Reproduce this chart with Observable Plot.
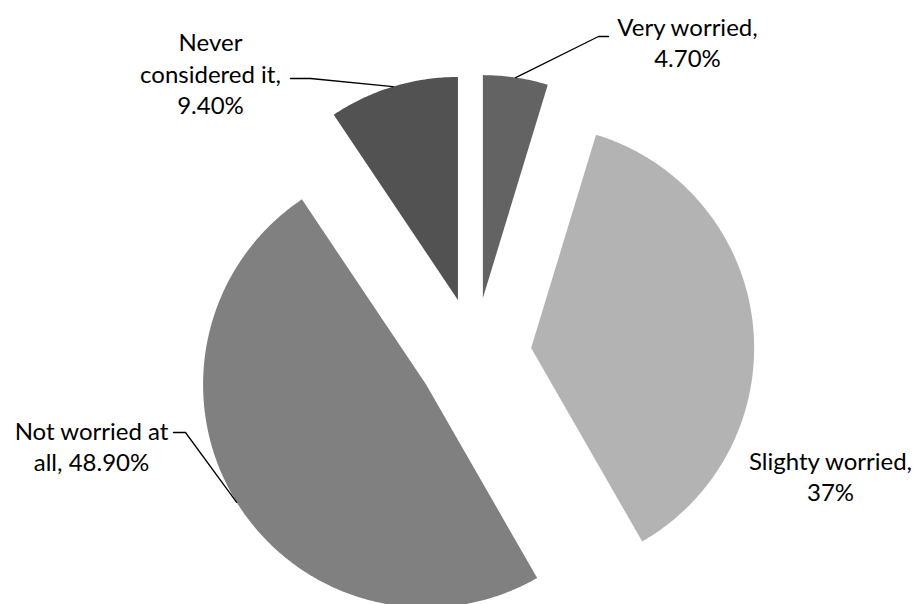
<!DOCTYPE html>
<html>
<head>
<meta charset="utf-8">
<script src="https://cdn.jsdelivr.net/npm/d3@7"></script>
<script src="https://cdn.jsdelivr.net/npm/@observablehq/plot@0.6"></script>
<style>
  html, body { margin: 0; padding: 0; background: #fff; }
</style>
</head>
<body>
<div id="chart"></div>
<script>
// ---- data ----
const categories = ["Very worried", "Slighty worried", "Not worried at all", "Never considered it"];
const values = [4.7, 37, 48.9, 9.4];
const valueLabels = ["4.70%", "37%", "48.90%", "9.40%"];
const labelTexts = ["Very worried,\n4.70%", "Slighty worried,\n37%", "Not worried at\nall, 48.90%", "Never\nconsidered it,\n9.40%"];
const colors = ["#636363", "#b3b3b3", "#808080", "#525252"];

// ---- layout ----
const W = 919, H = 604;
const cx = 474, cy = 354, R = 223, explode = 57;
const labelPos = [[687, 41], [830, 475], [91, 445], [210, 72]];
const leaderElbows = [[[598, 36], [608, 36]], null, [[185, 432], [173, 432]], [[310, 78], [290, 78]]];

const arcs = d3.pie().sort(null).value(d => d)(values);

const slicePts = [];
const leaderPts = [];
arcs.forEach((a, i) => {
  const mid = (a.startAngle + a.endAngle) / 2;
  const vx = cx + explode * Math.sin(mid);
  const vy = cy - explode * Math.cos(mid);
  slicePts.push({k: i, x: vx, y: vy});
  const n = Math.max(4, Math.ceil((a.endAngle - a.startAngle) / 0.01));
  for (let j = 0; j <= n; j++) {
    const t = a.startAngle + (a.endAngle - a.startAngle) * j / n;
    slicePts.push({k: i, x: vx + R * Math.sin(t), y: vy - R * Math.cos(t)});
  }
  slicePts.push({k: i, x: vx, y: vy});
  if (leaderElbows[i]) {
    leaderPts.push({k: i, x: vx + R * Math.sin(mid), y: vy - R * Math.cos(mid)});
    leaderElbows[i].forEach(p => leaderPts.push({k: i, x: p[0], y: p[1]}));
  }
});

const labels = categories.map((c, i) => ({k: i, text: labelTexts[i], x: labelPos[i][0], y: labelPos[i][1]}));

const chart = Plot.plot({
  width: W,
  height: H,
  margin: 0,
  x: {domain: [0, W], range: [0, W], axis: null},
  y: {domain: [0, H], range: [0, H], axis: null},
  color: {domain: d3.range(categories.length), range: colors},
  style: {background: "#fff", fontFamily: "Lato, 'Open Sans', sans-serif"},
  marks: [
    Plot.line(slicePts, {x: "x", y: "y", z: "k", fill: "k", stroke: null, curve: "linear"}),
    Plot.line(leaderPts, {x: "x", y: "y", z: "k", stroke: "#000", strokeWidth: 1.3}),
    Plot.text(labels, {x: "x", y: "y", text: "text", fontSize: 24, lineHeight: 1.32, fill: "#000", textAnchor: "middle"})
  ]
});
document.getElementById("chart").appendChild(chart);
</script>
</body>
</html>
